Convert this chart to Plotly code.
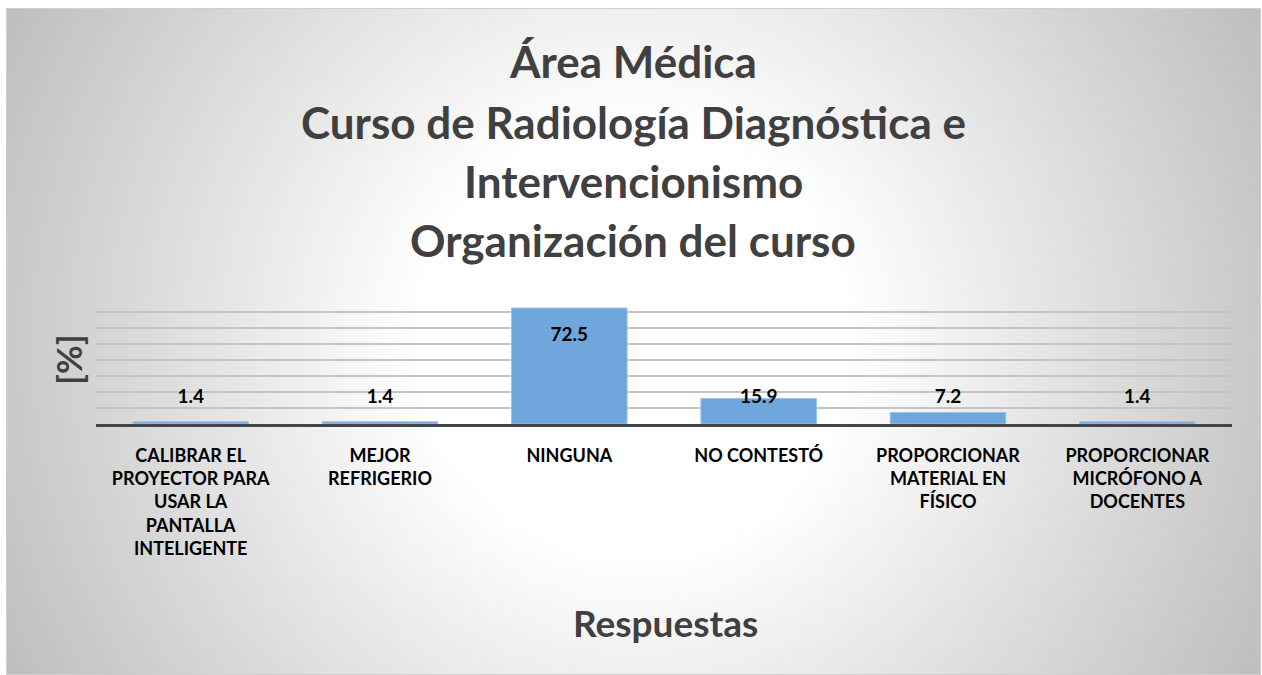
import base64
import plotly.graph_objects as go

# ---- data ----
categories = ["Calibrar", "Mejor", "Ninguna", "NoContesto", "ProporcionarMaterial", "ProporcionarMicrofono"]
tick_labels = [
    "CALIBRAR EL<br>PROYECTOR PARA<br>USAR LA<br>PANTALLA<br>INTELIGENTE",
    "MEJOR<br>REFRIGERIO",
    "NINGUNA",
    "NO CONTESTÓ",
    "PROPORCIONAR<br>MATERIAL EN<br>FÍSICO",
    "PROPORCIONAR<br>MICRÓFONO A<br>DOCENTES",
]
values = [1.4, 1.4, 72.5, 15.9, 7.2, 1.4]
title_lines = [
    "Área Médica",
    "Curso de Radiología Diagnóstica e",
    "Intervencionismo",
    "Organización del curso",
]

# ---- layout geometry (pixels) ----
W, H = 1262, 675
L, R, T, B = 96, 30, 295, 251
PW, PH = W - L - R, H - T - B
YMAX = 80 * PH / 128.0


def px_x(px):
    return (px - L) / PW


def px_y(py):
    return (H - B - py) / PH


FONT = "Lato, 'Open Sans', sans-serif"
GREY = "#404040"

# radial gradient background (svg)
FW, FH = 1255, 667
svg = (
    f'<svg xmlns="http://www.w3.org/2000/svg" width="{FW}" height="{FH}" viewBox="0 0 {FW} {FH}">'
    f'<defs><radialGradient id="g" gradientUnits="userSpaceOnUse" cx="{FW/2}" cy="{FH/2}" r="715">'
    '<stop offset="0" stop-color="#ffffff"/>'
    '<stop offset="0.3" stop-color="#ffffff"/>'
    '<stop offset="1" stop-color="#bdbdbd"/>'
    '</radialGradient></defs>'
    f'<rect x="0" y="0" width="{FW}" height="{FH}" fill="url(#g)" stroke="#cfcfcf" stroke-width="2"/>'
    '</svg>'
)
svg_uri = "data:image/svg+xml;base64," + base64.b64encode(svg.encode()).decode()

fig = go.Figure()
fig.add_trace(go.Bar(
    x=categories, y=values,
    marker=dict(color="#6fa6db", line=dict(color="#9cc3ea", width=1)),
    hoverinfo="skip",
))
label_y = [max(v - 17.5, 16.0) for v in values]
fig.add_trace(go.Scatter(
    x=categories, y=label_y, mode="text",
    text=[f"{v:.1f}" for v in values],
    textfont=dict(family=FONT, size=19, color="#000000", weight="bold"),
    hoverinfo="skip",
))

annotations = []
for line, cy in zip(title_lines, [61, 122, 181, 240]):
    annotations.append(dict(
        text=line, x=px_x(W / 2 + 2), y=px_y(cy), xref="paper", yref="paper",
        xanchor="center", yanchor="middle", showarrow=False,
        font=dict(family=FONT, size=44, color=GREY, weight="bold"),
    ))
annotations.append(dict(
    text="Respuestas", x=px_x(665), y=px_y(622), xref="paper", yref="paper",
    xanchor="center", yanchor="middle", showarrow=False,
    font=dict(family=FONT, size=37, color=GREY, weight="bold"),
))
annotations.append(dict(
    text="[%]", x=px_x(68), y=px_y(360), xref="paper", yref="paper",
    xanchor="center", yanchor="middle", showarrow=False, textangle=-90,
    font=dict(family=FONT, size=35, color=GREY, weight="bold"),
))

fig.update_layout(
    width=W, height=H,
    margin=dict(l=L, r=R, t=T, b=B, pad=0),
    paper_bgcolor="#ffffff",
    plot_bgcolor="rgba(0,0,0,0)",
    showlegend=False,
    bargap=0.39,
    annotations=annotations,
    images=[dict(
        source=svg_uri, xref="paper", yref="paper",
        x=px_x(6), y=px_y(8), sizex=FW / PW, sizey=FH / PH,
        xanchor="left", yanchor="top", sizing="stretch", layer="below",
    )],
)
fig.update_xaxes(
    tickvals=categories, ticktext=tick_labels,
    tickfont=dict(family=FONT, size=18, color="#000000", weight="bold"),
    ticks="", ticklabelstandoff=13,
    showline=True, linecolor="#454545", linewidth=3,
    showgrid=False, zeroline=False,
)
fig.update_yaxes(
    range=[0, YMAX], dtick=10, showticklabels=False, ticks="",
    showgrid=True, gridcolor="#c4c4c4", gridwidth=1.5,
    zeroline=False, showline=False,
)

fig.write_html(
    "out.html",
    config={"displayModeBar": False},
    post_script="document.body.style.margin='0';",
)
